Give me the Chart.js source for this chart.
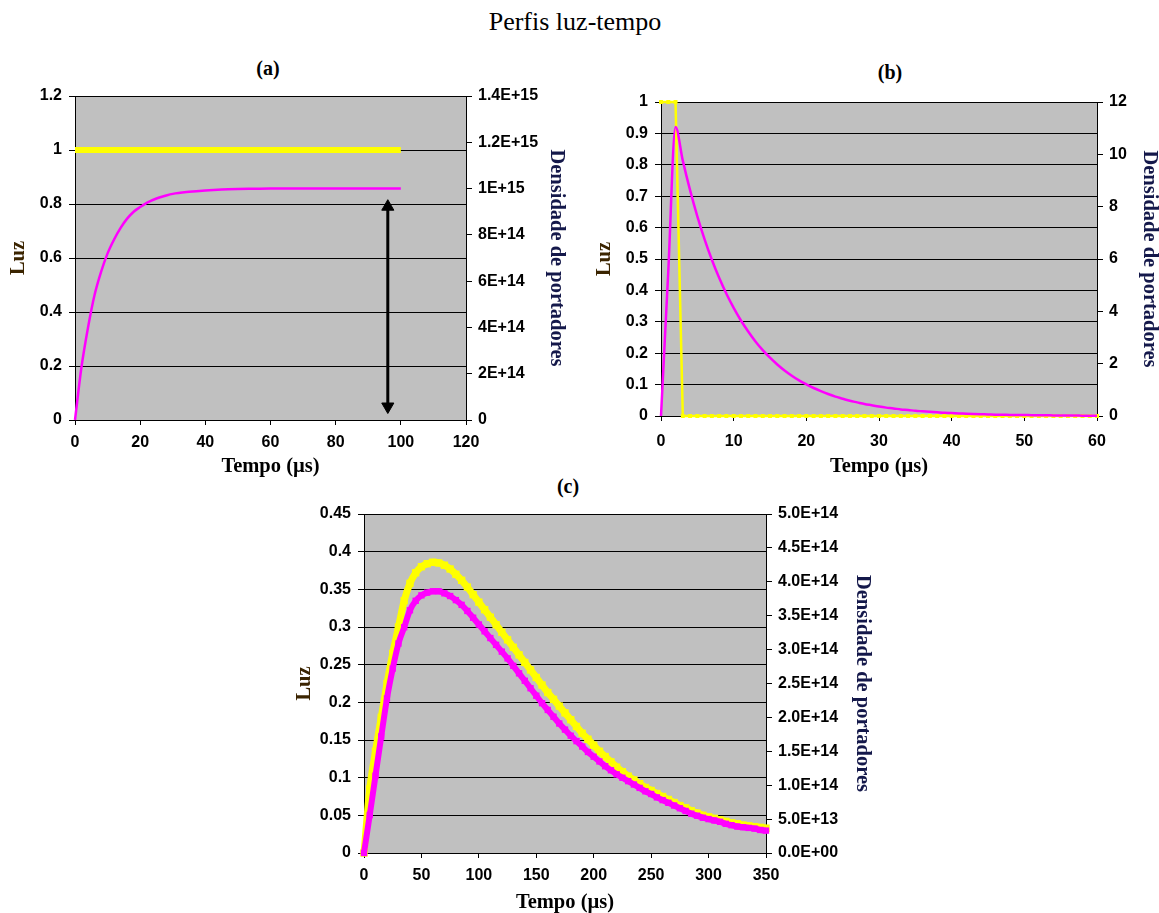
<!DOCTYPE html>
<html>
<head>
<meta charset="utf-8">
<script src="https://cdn.jsdelivr.net/npm/chart.js@4/dist/chart.umd.min.js"></script>
<style>
  html, body { margin:0; padding:0; background:#fff; }
  #page { position:relative; width:1159px; height:913px; overflow:hidden; background:#fff; }
  canvas { position:absolute; }
  .ttl { position:absolute; font-family:"Liberation Serif","Times New Roman",serif; color:#000; white-space:nowrap; transform:translate(-50%,-50%); }
  .main { font-size:26px; }
  .sub { font-size:20px; font-weight:bold; }
</style>
</head>
<body>
<div id="page">
  <div class="ttl main" style="left:575px; top:22px;">Perfis luz-tempo</div>
  <div class="ttl sub" style="left:268px; top:68px;">(a)</div>
  <div class="ttl sub" style="left:890px; top:72px;">(b)</div>
  <div class="ttl sub" style="left:568px; top:486px;">(c)</div>
  <canvas id="cA" width="580" height="420" style="left:0px; top:60px;"></canvas>
  <canvas id="cB" width="569" height="420" style="left:590px; top:60px;"></canvas>
  <canvas id="cC" width="600" height="423" style="left:280px; top:490px;"></canvas>
</div>
<script>
// ---------- DATA ----------
// (a)
const timeA_luz = [0,10,20,30,40,50,60,70,80,90,100];
const luzA      = [1,1,1,1,1,1,1,1,1,1,1];
const timeA     = [0,2,4,6,8,10,12,14,16,18,20,22,25,28,30,35,40,45,50,55,60,70,80,90,100];
const densA_e15 = [0,0.23,0.40,0.54,0.64,0.72,0.78,0.83,0.87,0.90,0.92,0.938,0.957,0.97,0.977,0.986,0.992,0.996,0.998,0.999,1,1,1,1,1];
const arrowA_x  = [96,96];
const arrowA_y  = [0.79,0.05];
const yTicksA   = ['0','0.2','0.4','0.6','0.8','1','1.2'];
const y2TicksA  = ['0','2E+14','4E+14','6E+14','8E+14','1E+15','1.2E+15','1.4E+15'];

// (b)
const timeB = [0,1,2,3,4,5,6,7,8,9,10,11,12,13,14,15,16,17,18,19,20,21,22,23,24,25,26,27,28,29,30,
               31,32,33,34,35,36,37,38,39,40,41,42,43,44,45,46,47,48,49,50,51,52,53,54,55,56,57,58,59,60];
const luzB  = [1,1,1,0,0,0,0,0,0,0,0,0,0,0,0,0,0,0,0,0,0,0,0,0,0,0,0,0,0,0,0,
               0,0,0,0,0,0,0,0,0,0,0,0,0,0,0,0,0,0,0,0,0,0,0,0,0,0,0,0,0,0];
const densB = [0,5.52,11.04,9.76,8.63,7.63,6.75,5.97,5.28,4.67,4.13,3.65,3.23,2.85,2.52,2.23,1.97,1.74,1.54,1.36,1.21,
               1.07,0.95,0.84,0.74,0.66,0.58,0.52,0.46,0.41,0.36,0.32,0.29,0.25,0.23,0.20,0.18,0.16,0.14,0.12,0.11,
               0.10,0.09,0.08,0.07,0.06,0.05,0.05,0.04,0.04,0.04,0.03,0.03,0.03,0.02,0.02,0.02,0.02,0.01,0.01,0.01];
const yTicksB  = ['0','0.1','0.2','0.3','0.4','0.5','0.6','0.7','0.8','0.9','1'];
const y2TicksB = ['0','2','4','6','8','10','12'];

// (c)
const timeC = [0,5,10,15,20,25,30,35,40,45,50,55,60,65,70,75,80,85,90,95,100,105,110,115,120,125,130,135,140,145,
               150,155,160,165,170,175,180,185,190,195,200,205,210,215,220,225,230,235,240,245,250,255,260,265,270,275,
               280,285,290,295,300,305,310,315,320,325,330,335,340,345,350];
const luzC = [0,0.085,0.135,0.18,0.225,0.265,0.30,0.335,0.358,0.372,
              0.38,0.384,0.386,0.385,0.382,0.377,0.37,0.362,0.353,0.343,
              0.333,0.323,0.313,0.303,0.293,0.283,0.273,0.263,0.253,0.243,
              0.233,0.223,0.213,0.204,0.195,0.186,0.177,0.168,0.159,0.151,
              0.143,0.135,0.128,0.121,0.114,0.108,0.102,0.097,0.092,0.087,
              0.083,0.079,0.075,0.071,0.067,0.063,0.06,0.056,0.053,0.05,
              0.048,0.046,0.044,0.042,0.04,0.039,0.037,0.036,0.035,0.034,
              0.033];
const densC_e14 = [0,0.56,1.14,1.72,2.28,2.72,3.09,3.33,3.58,3.72,
                   3.80,3.84,3.86,3.86,3.83,3.79,3.73,3.66,3.57,3.47,
                   3.37,3.27,3.17,3.07,2.97,2.87,2.76,2.65,2.54,2.43,
                   2.32,2.21,2.11,2.01,1.91,1.82,1.73,1.65,1.57,1.49,
                   1.42,1.35,1.28,1.22,1.16,1.11,1.06,1.01,0.96,0.91,
                   0.87,0.82,0.78,0.74,0.70,0.66,0.62,0.58,0.55,0.52,
                   0.50,0.48,0.46,0.43,0.41,0.39,0.38,0.37,0.36,0.34,
                   0.33];
const yTicksC  = ['0','0.05','0.1','0.15','0.2','0.25','0.3','0.35','0.4','0.45'];
const y2TicksC = ['0.0E+00','5.0E+13','1.0E+14','1.5E+14','2.0E+14','2.5E+14','3.0E+14','3.5E+14','4.0E+14','4.5E+14','5.0E+14'];

const xTitle  = 'Tempo (µs)';
const yTitle  = 'Luz';
const y2Title = 'Densidade de portadores';

// ---------- STYLE / HELPERS ----------
const YELLOW = '#ffff00', MAGENTA = '#ff00ff';
const TICK_FONT = {family:'"Liberation Sans", Arial, sans-serif', size:16, weight:'bold'};
function tFont(lh){ return {family:'"Liberation Serif","Times New Roman",serif', size:20.5, weight:'bold', lineHeight:lh}; }
const pts = (xs, ys, k) => xs.map((x,i)=>({x:x, y:ys[i]*(k||1)}));

const bgPlugin = {
  id:'plotBg',
  beforeDraw(chart){
    const {ctx, chartArea:a} = chart;
    ctx.save();
    ctx.fillStyle = '#c0c0c0';
    ctx.fillRect(a.left, a.top, a.right - a.left, a.bottom - a.top);
    ctx.restore();
  }
};

function makeChart(id, L, S, datasets){
  return new Chart(document.getElementById(id), {
    type:'line',
    data:{datasets:datasets},
    plugins:[bgPlugin],
    options:{
      responsive:false, animation:false, events:[],
      layout:{padding:{top:L.top, left:0, right:0, bottom:0}},
      plugins:{legend:{display:false}, tooltip:{enabled:false}},
      scales:{
        x:{
          type:'linear', min:S.xMin, max:S.xMax,
          ticks:{stepSize:S.xStep, font:TICK_FONT, color:'#000', padding:L.xPad, maxRotation:0, autoSkip:false},
          grid:{drawOnChartArea:false, color:'#000', tickLength:5},
          border:{color:'#000', width:1},
          title:{display:true, text:xTitle, color:'#000', font:tFont(L.xLh), padding:{top:0, bottom:L.xTitlePad}},
          afterFit(s){ s.height = L.xH; }
        },
        y:{
          position:'left', min:S.yMin, max:S.yMax,
          ticks:{stepSize:S.yStep, font:TICK_FONT, color:'#000', padding:7, autoSkip:false,
                 callback:(v,i)=>S.yLabels[i]},
          grid:{color:'#000', tickLength:6},
          border:{color:'#000', width:1},
          title:{display:true, text:yTitle, color:'#3b2400', font:tFont(1.2), padding:{top:L.yTitlePad, bottom:0}},
          afterFit(s){ s.width = L.yW; }
        },
        y2:{
          position:'right', min:S.y2Min, max:S.y2Max,
          ticks:{stepSize:S.y2Step, font:TICK_FONT, color:'#000', padding:6, autoSkip:false,
                 callback:(v,i)=>S.y2Labels[i]},
          grid:{drawOnChartArea:false, color:'#000', tickLength:6},
          border:{color:'#000', width:1},
          title:{display:true, text:y2Title, color:'#14184a', font:tFont(L.y2Lh), padding:{top:L.y2TitlePad, bottom:0}},
          afterFit(s){ s.width = L.y2W; }
        }
      }
    }
  });
}

// ---------- CHART (a) ----------
makeChart('cA',
  {top:36, yW:75, y2W:114, xH:60, xPad:8, xLh:1.2, xTitlePad:1, yTitlePad:6, y2Lh:1.2, y2TitlePad:11},
  {xMin:0, xMax:120, xStep:20, yMin:0, yMax:1.2, yStep:0.2, yLabels:yTicksA,
   y2Min:0, y2Max:1.4e15, y2Step:2e14, y2Labels:y2TicksA},
  [
    {data:pts(arrowA_x, arrowA_y), yAxisID:'y', borderColor:'#000', backgroundColor:'#000', borderWidth:3,
     pointStyle:'triangle', pointRadius:7, pointRotation:[0,180], pointBorderWidth:1},
    {data:pts(timeA, densA_e15, 1e15), yAxisID:'y2', borderColor:MAGENTA, borderWidth:2.5, pointRadius:0,
     cubicInterpolationMode:'monotone', clip:6},
    {data:pts(timeA_luz, luzA), yAxisID:'y', borderColor:YELLOW, borderWidth:6, pointRadius:0, clip:6}
  ]);

// ---------- CHART (b) ----------
makeChart('cB',
  {top:42, yW:71, y2W:62, xH:64, xPad:11, xLh:1.2, xTitlePad:1, yTitlePad:2, y2Lh:0.9, y2TitlePad:0},
  {xMin:0, xMax:60, xStep:10, yMin:0, yMax:1, yStep:0.1, yLabels:yTicksB,
   y2Min:0, y2Max:12, y2Step:2, y2Labels:y2TicksB},
  [
    {data:pts(timeB, densB), yAxisID:'y2', borderColor:MAGENTA, borderWidth:2.5, pointRadius:0,
     cubicInterpolationMode:'monotone', clip:6},
    {data:pts(timeB, luzB), yAxisID:'y', borderColor:YELLOW, borderWidth:2.5, clip:6,
     pointStyle:'rect', pointRadius:2.8, pointBackgroundColor:YELLOW, pointBorderWidth:0}
  ]);

// ---------- CHART (c) ----------
makeChart('cC',
  {top:24, yW:84, y2W:114, xH:60, xPad:8, xLh:1.0, xTitlePad:0, yTitlePad:12, y2Lh:1.2, y2TitlePad:5},
  {xMin:0, xMax:350, xStep:50, yMin:0, yMax:0.45, yStep:0.05, yLabels:yTicksC,
   y2Min:0, y2Max:5e14, y2Step:5e13, y2Labels:y2TicksC},
  [
    {data:pts(timeC, densC_e14, 1e14), yAxisID:'y2', borderColor:MAGENTA, borderWidth:6, clip:6,
     pointStyle:'rect', pointRadius:4.5, pointBackgroundColor:MAGENTA, pointBorderWidth:0,
     cubicInterpolationMode:'monotone'},
    {data:pts(timeC, luzC), yAxisID:'y', borderColor:YELLOW, borderWidth:7, clip:6,
     pointStyle:'rect', pointRadius:5.2, pointBackgroundColor:YELLOW, pointBorderWidth:0,
     cubicInterpolationMode:'monotone'}
  ]);
</script>
</body>
</html>
